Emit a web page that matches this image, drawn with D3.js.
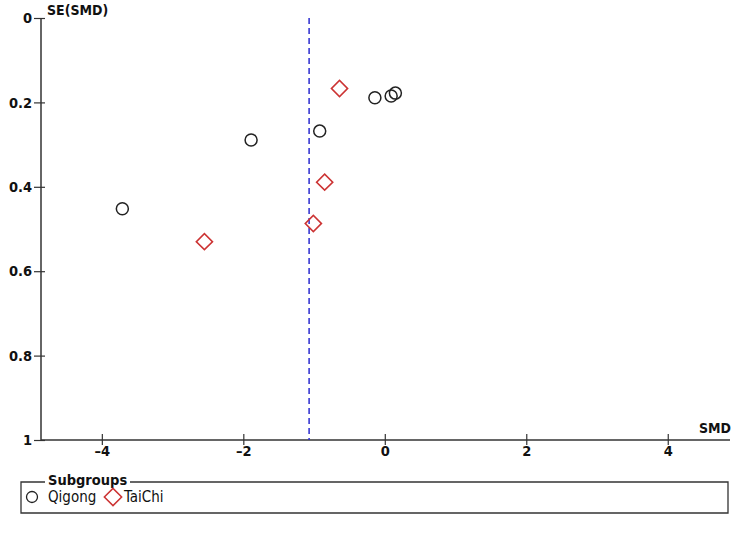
<!DOCTYPE html>
<html>
<head>
<meta charset="utf-8">
<script src="https://cdn.jsdelivr.net/npm/d3@7"></script>
<style>
body { margin:0; background:#fff; }
text { font-family: "DejaVu Sans Condensed", "DejaVu Sans", sans-serif; }
</style>
</head>
<body>
<div id="chart"></div>
<script>
// funnel plot data
const qigongSMD = [-3.71, -1.89, -0.92, -0.14, 0.09, 0.15]
const qigongSE  = [0.452, 0.289, 0.268, 0.189, 0.185, 0.178]
const taichiSMD = [-0.64, -0.85, -1.01, -2.55]
const taichiSE  = [0.167, 0.389, 0.487, 0.530]
const pooledSMD = -1.07
const xTicks = [-4, -2, 0, 2, 4]
const yTicks = [0, 0.2, 0.4, 0.6, 0.8, 1]
const groups = ["Qigong", "TaiChi"]

const svg = d3.select("#chart").append("svg").attr("width",750).attr("height",535)

const x = d3.scaleLinear().domain([-4.86, 4.88]).range([41, 730])
const y = d3.scaleLinear().domain([0, 1]).range([18, 440])

// y axis, ticks cross the line
const yAxis = svg.append("g").attr("transform","translate(41,0)")
  .call(d3.axisLeft(y).tickValues(yTicks).tickFormat(d3.format("")).tickSize(7).tickPadding(2))
yAxis.select(".domain").attr("stroke","#333").attr("stroke-width",1.5).attr("d","M0,18V440")
yAxis.selectAll(".tick line").attr("stroke","#333").attr("stroke-width",1.2).attr("x2",-7).attr("x1",4)
yAxis.selectAll(".tick text").attr("font-size",14.5).attr("font-weight","bold").attr("fill","#111")

// x axis, ticks cross the line
const xAxis = svg.append("g").attr("transform","translate(0,440)")
  .call(d3.axisBottom(x).tickValues(xTicks).tickFormat(d => d < 0 ? "\u2013" + Math.abs(d) : d).tickSize(5).tickPadding(1))
xAxis.select(".domain").attr("stroke","#333").attr("stroke-width",1.5).attr("d","M41,0H730")
xAxis.selectAll(".tick line").attr("stroke","#333").attr("stroke-width",1.2).attr("y1",-6)
xAxis.selectAll(".tick text").attr("font-size",14.5).attr("font-weight","bold").attr("fill","#111")

// axis titles
svg.append("text").attr("x",47).attr("y",15).text("SE(SMD)")
  .attr("font-size",14).attr("font-weight","bold").attr("fill","#111")
svg.append("text").attr("x",731).attr("y",433).attr("text-anchor","end").text("SMD")
  .attr("font-size",14).attr("font-weight","bold").attr("fill","#111")

// pooled estimate line
svg.append("line").attr("x1",x(pooledSMD)).attr("x2",x(pooledSMD)).attr("y1",y(0)).attr("y2",y(1))
  .attr("stroke","#2b2bd0").attr("stroke-width",1.5).attr("stroke-dasharray","6,4")

const diamond = d3.symbol().type(d3.symbolSquare).size(130)

// Qigong circles
svg.selectAll(".qg").data(qigongSMD).enter().append("circle")
  .attr("cx", d => x(d)).attr("cy", (d,i) => y(qigongSE[i])).attr("r",6)
  .attr("fill","none").attr("stroke","#222").attr("stroke-width",1.5)

// TaiChi diamonds
svg.selectAll(".tc").data(taichiSMD).enter().append("path")
  .attr("d", diamond)
  .attr("transform", (d,i) => `translate(${x(d)},${y(taichiSE[i])}) rotate(45)`)
  .attr("fill","none").attr("stroke","#cc3333").attr("stroke-width",1.6)

// legend
svg.append("path").attr("d","M45,482H21V513H728V482H130")
  .attr("fill","none").attr("stroke","#333").attr("stroke-width",1.3)
svg.append("text").attr("x",48).attr("y",485).text("Subgroups")
  .attr("font-size",14.5).attr("font-weight","bold").attr("fill","#111")

svg.append("circle").attr("cx",32).attr("cy",497).attr("r",5.5)
  .attr("fill","none").attr("stroke","#222").attr("stroke-width",1.3)
svg.append("text").attr("x",48).attr("y",502).text(groups[0]).attr("font-size",15).attr("fill","#111")
svg.append("path").attr("d",d3.symbol().type(d3.symbolSquare).size(150))
  .attr("transform","translate(113,497) rotate(45)")
  .attr("fill","none").attr("stroke","#cc3333").attr("stroke-width",1.5)
svg.append("text").attr("x",124).attr("y",502).text(groups[1]).attr("font-size",15).attr("fill","#111")
</script>
</body>
</html>
